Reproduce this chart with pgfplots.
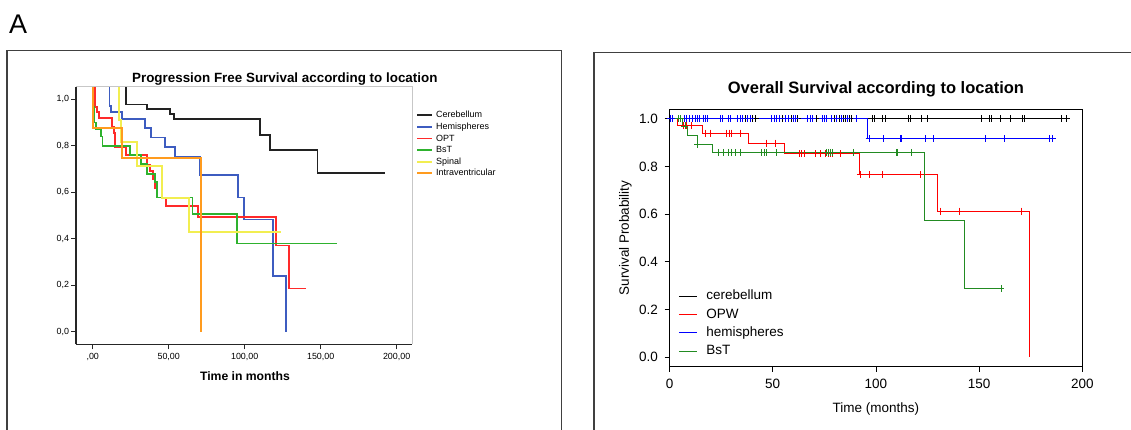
\documentclass[border=0pt]{standalone}
\usepackage{pgfplots}
\pgfplotsset{compat=1.18}
\usepackage{fontspec}
\setmainfont{Liberation Sans}
\newcommand\fs[1]{\fontsize{#1}{#1}\selectfont}
\definecolor{cBlack}{RGB}{34,34,34}
\definecolor{cBlue}{RGB}{61,92,192}
\definecolor{cRed}{RGB}{255,42,42}
\definecolor{cGreen}{RGB}{46,178,46}
\definecolor{cYellow}{RGB}{242,238,80}
\definecolor{cOrange}{RGB}{255,155,30}
\definecolor{rGreen}{RGB}{34,139,34}
\begin{document}
\begin{tikzpicture}[x=1pt,y=1pt]
\path[use as bounding box] (0,0) rectangle (1131,429);
\draw[black!75, line width=1.2pt] (7,-5) -- (7,378.3) -- (561.7,378.3) -- (561.7,-5);
\draw[black!75, line width=1.2pt] (594,-5) -- (594,376.7) -- (1140,376.7);
\node[anchor=base west, inner sep=0pt, font=\fs{27}] at (9,395.7) {A};

\begin{axis}[
  name=L, at={(76pt,84.7pt)}, anchor=south west,
  scale only axis, width=336.3pt, height=257.3pt,
  xmin=-11, xmax=210.3, ymin=-0.054, ymax=1.053,
  axis lines=left, axis line style={-, line width=1.4pt, black!85},
  tick align=outside, major tick length=5pt,
  tick style={black!85, line width=0.8pt},
  xtick={0,50,100,150,200}, xticklabels={{,00},{50,00},{100,00},{150,00},{200,00}},
  ytick={0,0.2,0.4,0.6,0.8,1.0}, yticklabels={{0,0},{0,2},{0,4},{0,6},{0,8},{1,0}},
  ticklabel style={font=\fs{8.9}},
  yticklabel style={xshift=1.5pt},
  every axis title shift=0pt,
  title={Progression Free Survival according to location},
  title style={font=\fs{13.4}\bfseries, at={(axis description cs:0.6209,1.0186)}, anchor=base, inner sep=0pt},
  xlabel={Time in months},
  xlabel style={font=\fs{12.2}\bfseries, at={(axis description cs:0.5025,-0.1415)}, anchor=base, inner sep=0pt},
  legend style={at={(axis description cs:1.011,0.912)}, anchor=north west, draw=none, fill=none, font=\fs{9}, inner sep=0pt, row sep=0.6pt, column sep=2.2pt, nodes={inner sep=1pt, text height=7pt, text depth=2pt}},
  legend cell align=left,
  legend image code/.code={\draw[#1] (0pt,0pt) -- (15pt,0pt);},
  every axis plot/.append style={line width=1.8pt},
]
\addplot[const plot, color=cBlack] coordinates {(0,1.2)(21.9,0.978)(35.5,0.958)(50.9,0.938)(53.5,0.914)(110.3,0.846)(116.6,0.782)(147.9,0.684)(192.3,0.684)};
\addlegendentry{Cerebellum}
\addplot[const plot, color=cBlue] coordinates {(0,1.2)(11.0,0.97)(12.1,0.947)(19.5,0.917)(34.2,0.878)(38.4,0.836)(47.8,0.795)(53.9,0.753)(70.8,0.676)(95.8,0.578)(99.7,0.483)(118.6,0.241)(127,0)};
\addlegendentry{Hemispheres}
\addplot[const plot, color=cRed] coordinates {(0,1.2)(1.5,0.968)(2.9,0.947)(4.2,0.918)(12.5,0.882)(14.2,0.855)(14.8,0.793)(21.7,0.76)(35.5,0.72)(37.5,0.69)(39.6,0.655)(41.2,0.62)(42.6,0.578)(48,0.541)(69.5,0.495)(120.6,0.371)(129,0.186)(140.4,0.186)};
\addlegendentry{OPT}
\addplot[const plot, color=cGreen] coordinates {(0,1.2)(0.5,0.968)(1.2,0.90)(2.0,0.871)(5.5,0.84)(6.5,0.80)(24.6,0.76)(32,0.721)(35.5,0.677)(41,0.645)(42.1,0.578)(65.6,0.508)(94.7,0.38)(160.5,0.38)};
\addlegendentry{BsT}
\addplot[const plot, color=cYellow] coordinates {(0,1.2)(17.3,0.91)(18.6,0.818)(28.9,0.714)(45.6,0.574)(63.6,0.429)(123.9,0.429)};
\addlegendentry{Spinal}
\addplot[const plot, color=cOrange] coordinates {(0,1.2)(0.4,0.875)(19.5,0.749)(71.5,0)};
\addlegendentry{Intraventricular}
\end{axis}
\draw[black!22, line width=1pt] (76,342) -- (412.3,342) -- (412.3,84.7);

\begin{axis}[
  name=R, at={(669.5pt,62.3pt)}, anchor=south west,
  scale only axis, width=412.8pt, height=257.4pt,
  xmin=0, xmax=200, ymin=-0.04, ymax=1.04,
  axis line style={line width=0.9pt},
  tick align=outside, major tick length=5pt, xtick pos=bottom, ytick pos=left,
  tick style={black, line width=0.8pt},
  xtick={0,50,100,150,200}, xticklabels={0,50,100,150,200},
  ytick={0,0.2,0.4,0.6,0.8,1.0}, yticklabels={0.0,0.2,0.4,0.6,0.8,1.0},
  ticklabel style={font=\fs{13.5}},
  xticklabel style={yshift=-3.5pt},
  yticklabel style={xshift=-3pt},
  every axis title shift=0pt,
  title={Overall Survival according to location},
  title style={font=\fs{16.5}\bfseries, at={(axis description cs:0.5,1.0633)}, anchor=base, inner sep=0pt},
  xlabel={Time (months)},
  xlabel style={font=\fs{13.5}, at={(axis description cs:0.5,-0.179)}, anchor=base, inner sep=0pt},
  ylabel={Survival Probability},
  ylabel style={font=\fs{13.5}, at={(axis description cs:-0.1066,0.5)}, anchor=center, inner sep=0pt},
  legend style={at={(axis description cs:0.0213,0.308)}, anchor=north west, draw=none, fill=none, font=\fs{13.5}, inner sep=0pt, row sep=1.4pt, column sep=7pt, nodes={inner sep=2pt, text height=10pt, text depth=3pt}},
  legend cell align=left,
  legend image code/.code={\draw[#1] (0pt,0pt) -- (18pt,0pt);},
  every axis plot/.append style={line width=0.9pt},
]
\addplot[const plot, color=black] coordinates {(0,1)(193.5,1)};
\addlegendentry{cerebellum}
\addplot[const plot, color=red] coordinates {(0,1)(3.8,0.971)(16.1,0.94)(38.2,0.898)(55.6,0.853)(92,0.765)(129.9,0.613)(174.3,0)};
\addlegendentry{OPW}
\addplot[const plot, color=blue] coordinates {(0,1)(95.7,0.917)(186.8,0.917)};
\addlegendentry{hemispheres}
\addplot[const plot, color=rGreen] coordinates {(0,1)(6.4,0.97)(8.6,0.93)(13.5,0.894)(20.8,0.859)(123.3,0.572)(142.8,0.288)(161.7,0.288)};
\addlegendentry{BsT}
% censor marks
\addplot[only marks, mark=+, mark size=3.5pt, color=black, forget plot] coordinates {(36.6,1)(40.3,1)(41.6,1)(54.8,1)(58.9,1)(62.1,1)(71.3,1)(79.7,1)(82.1,1)(84.1,1)(85.2,1)(87.1,1)(88.3,1)(98.3,1)(99.3,1)(103.1,1)(104.4,1)(115.7,1)(116.9,1)(121.9,1)(125.1,1)(150.9,1)(154.9,1)(155.8,1)(160.1,1)(165.0,1)(171.0,1)(172.0,1)(189.7,1)(192.3,1)};
\addplot[only marks, mark=+, mark size=3.5pt, color=red, forget plot] coordinates {(6.7,0.971)(8.3,0.971)(10.7,0.971)(17.5,0.94)(20.0,0.94)(27.7,0.94)(29.0,0.94)(30.1,0.94)(34.2,0.94)(46.8,0.898)(51.1,0.898)(62.9,0.853)(64.0,0.853)(65.6,0.853)(70.5,0.853)(72.9,0.853)(75.7,0.853)(76.9,0.853)(78.0,0.853)(79.1,0.853)(82.6,0.853)(92.5,0.765)(96.7,0.765)(103.1,0.765)(121.8,0.765)(131.5,0.613)(140.6,0.613)(170.5,0.613)};
\addplot[only marks, mark=+, mark size=3.5pt, color=blue, forget plot] coordinates {(0.6,1)(1.2,1)(7.0,1)(8.3,1)(9.6,1)(11.1,1)(12.4,1)(13.5,1)(14.5,1)(16.4,1)(17.2,1)(18.5,1)(24.5,1)(25.8,1)(28.5,1)(29.6,1)(32.9,1)(34.2,1)(35.4,1)(37.7,1)(39.0,1)(49.5,1)(50.8,1)(51.9,1)(53.5,1)(56.3,1)(57.6,1)(60.0,1)(61.1,1)(66.9,1)(68.1,1)(69.4,1)(74.2,1)(75.0,1)(76.1,1)(78.6,1)(81.0,1)(83.1,1)(86.2,1)(90.7,1)(96.7,0.917)(103.6,0.917)(111.7,0.917)(112.5,0.917)(124.1,0.917)(127.8,0.917)(152.9,0.917)(162.2,0.917)(184.0,0.917)(185.5,0.917)};
\addplot[only marks, mark=+, mark size=3.5pt, color=rGreen, forget plot] coordinates {(4.3,1)(5.4,1)(7.5,0.97)(13.7,0.894)(23.7,0.859)(26.1,0.859)(28.5,0.859)(30.1,0.859)(32,0.859)(34.2,0.859)(44.7,0.859)(45.8,0.859)(47.1,0.859)(51.9,0.859)(76.2,0.859)(76.9,0.859)(77.8,0.859)(79.1,0.859)(89.1,0.859)(110.1,0.859)(110.5,0.859)(117.0,0.859)(160.6,0.288)};
\end{axis}
\end{tikzpicture}
\end{document}
